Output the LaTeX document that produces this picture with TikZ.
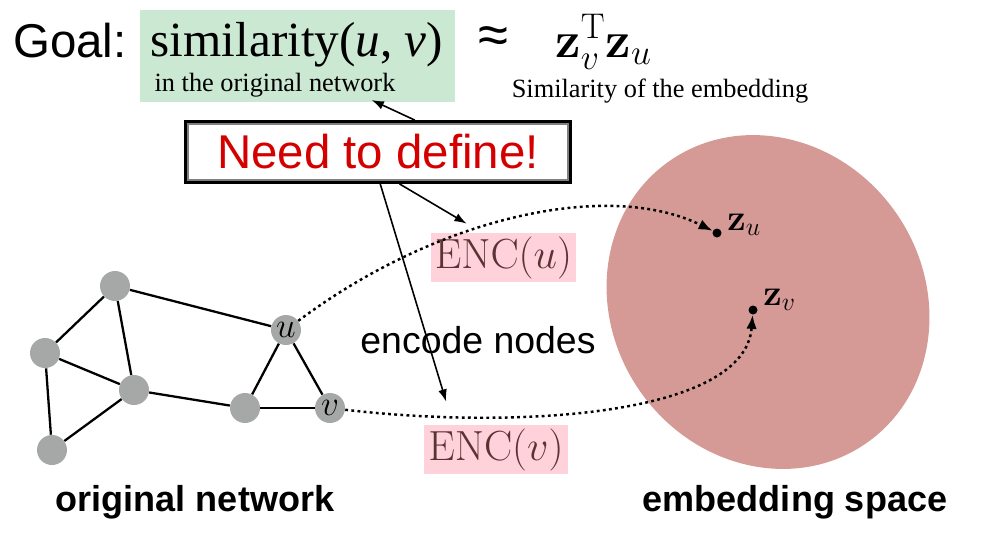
\RequirePackage{fix-cm}
\documentclass[tikz,border=0pt]{standalone}
\usepackage[no-math]{fontspec}
\setmainfont{Liberation Serif}
\setsansfont{Liberation Sans}
\usetikzlibrary{arrows.meta,positioning,calc}
\definecolor{goalgreen}{HTML}{CBE8D2}
\definecolor{encpink}{HTML}{FFD2DB}
\definecolor{enctext}{HTML}{5A3434}
\definecolor{embedred}{HTML}{D59A95}
\definecolor{nodegray}{HTML}{A5A8A6}
\definecolor{definered}{HTML}{D40000}

\begin{document}
\begin{tikzpicture}[x=0.02cm, y=-0.02cm,
  headline/.style={font=\sffamily\fontsize{27}{30}\selectfont, inner sep=0pt},
  formula/.style={font=\fontsize{28}{30}\selectfont, inner sep=0pt},
  remark/.style={font=\fontsize{15}{17}\selectfont, inner sep=0pt},
  greenbox/.style={fill=goalgreen, minimum width=6.3cm, minimum height=1.84cm, inner sep=0pt},
  definebox/.style={draw=black, line width=2.2pt, fill=white, minimum width=7.68cm, minimum height=1.2cm, text=definered, font=\sffamily\fontsize{27}{30}\selectfont},
  encbox/.style={fill=encpink, text=enctext, minimum width=2.9cm, minimum height=0.98cm, inner sep=0pt, font=\fontsize{24}{26}\selectfont},
  vertex/.style={circle, fill=nodegray, minimum size=0.6cm, inner sep=0pt, font=\fontsize{20}{20}\selectfont},
  edge/.style={line width=1.3pt},
  embdot/.style={circle, fill=black, minimum size=0.18cm, inner sep=0pt},
  zlabel/.style={font=\fontsize{21}{22}\selectfont, inner sep=0pt},
  caption/.style={font=\sffamily\bfseries\fontsize{20.5}{24}\selectfont, inner sep=0pt},
  arrow/.style={-{Latex[length=7pt,width=5pt]}, line width=0.9pt},
  maparrow/.style={-{Latex[length=8pt,width=6pt]}, line width=1.4pt, dash pattern=on 1.6pt off 1.9pt}
]
  \useasboundingbox[fill=white] (0,0) rectangle (986,542);

  % goal line
  \node[greenbox] (goalbox) at (297.5,56) {};
  \node[headline, anchor=base] (goal) at (70,57) {Goal:};
  \node[formula, anchor=base] (sim) at (297,56) {similarity(\textit{u}, \textit{v})};
  \node[remark, anchor=base] (orig) at (275,91) {in the original network};
  \node[headline, font=\sffamily\fontsize{31}{32}\selectfont, anchor=base] (approx) at (493,53) {≈};
  \node[formula, font=\fontsize{29}{30}\selectfont, anchor=base west] (dotprod) at (555,57) {$\mathbf{z}_v^{\mathrm{T}}\mathbf{z}_u$};
  \node[remark, anchor=base] (simemb) at (660,97) {Similarity of the embedding};

  \node[definebox] (need) at (378,152) {Need to define!};
  \draw[gray, line width=0.8pt] ([shift={(4,4)}]need.north west) rectangle ([shift={(-4,-4)}]need.south east);

  % embedding space
  \fill[embedred, rotate around={35:(768,302)}] (768,302) ellipse [x radius=156, y radius=172];
  \node[embdot] (zu) at (717,233) {};
  \node[embdot] (zv) at (753,310) {};
  \node[zlabel, anchor=base west] (zulabel) at (727,230) {$\mathbf{z}_u$};
  \node[zlabel, anchor=base west] (zvlabel) at (763,305) {$\mathbf{z}_v$};

  % original network
  \node[vertex] (n1) at (115,286) {};
  \node[vertex] (n2) at (45,353) {};
  \node[vertex] (n3) at (134,390) {};
  \node[vertex] (n4) at (52,450) {};
  \node[vertex] (n5) at (245,408) {};
  \node[vertex] (u) at (286,330) {$u$};
  \node[vertex] (v) at (330,408) {$v$};
  \foreach \a/\b in {n1/u, n1/n2, n1/n3, n2/n3, n2/n4, n4/n3, n3/n5, n5/u, n5/v, u/v}
    \draw[edge] (\a) -- (\b);

  % encoder
  \node[encbox] (encu) at (503.5,257.5) {$\mathrm{ENC}(u)$};
  \node[encbox] (encv) at (496,449.5) {$\mathrm{ENC}(v)$};
  \node[headline, font=\sffamily\fontsize{21.3}{24}\selectfont] (encode) at (478,340) {encode nodes};

  \draw[arrow] (need.41) -- ($(orig.south west)!0.9!(orig.south east)+(0,3)$);
  \draw[arrow] (need.-56) -- ($(encu.north west)+(36,-9)$);
  \draw[arrow] (need.-86) -- ($(encv.north west)+(23,-23)$);

  \draw[maparrow] (u) .. controls (440,215) and (610,180) .. (zu);
  \draw[maparrow] (v) .. controls (520,430) and (745,415) .. (zv);

  \node[caption, anchor=base] (netcap) at (195,511) {original network};
  \node[caption, anchor=base] (embcap) at (795,511) {embedding space};
\end{tikzpicture}
\end{document}
